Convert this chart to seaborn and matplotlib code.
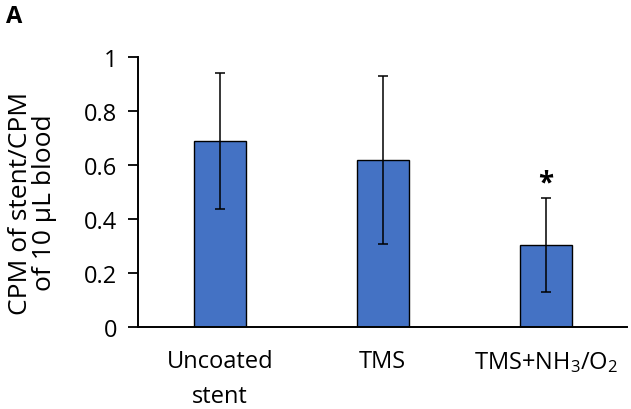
import numpy as np
import pandas as pd
import matplotlib
matplotlib.use('Agg')
import matplotlib.pyplot as plt
import seaborn as sns

# values
groups = ['Uncoated\nstent', 'TMS', 'TMS+NH$_3$/O$_2$']
means = [0.69, 0.62, 0.305]
errs = [0.25, 0.31, 0.175]
signif = ['', '', '*']

sns.set_style('ticks')
plt.rcParams['font.family'] = ['Open Sans', 'DejaVu Sans']
plt.rcParams['mathtext.default'] = 'regular'
plt.rcParams['text.color'] = 'black'
plt.rcParams['axes.labelcolor'] = 'black'
plt.rcParams['xtick.color'] = 'black'
plt.rcParams['ytick.color'] = 'black'

df = pd.DataFrame({'group': groups, 'mean': means, 'err': errs})

fig = plt.figure(figsize=(6.31, 4.10), dpi=100)
ax = fig.add_axes([0.219, 0.199, 0.775, 0.659])

sns.barplot(data=df, x='group', y='mean', color='#4472C4', saturation=1,
            width=0.32, edgecolor='black', linewidth=1, ax=ax)
ax.errorbar(np.arange(len(df)), df['mean'], yerr=df['err'], fmt='none',
            ecolor='black', elinewidth=1.1, capsize=3.5, capthick=1.1)

for i, s in enumerate(signif):
    if s:
        ax.text(i, means[i] + errs[i] + 0.055, s, ha='center', va='center',
                fontsize=20, fontweight='bold')

ax.set_xlim(-0.5, 2.5)
ax.set_ylim(0, 1)
ax.set_yticks([0, 0.2, 0.4, 0.6, 0.8, 1])
ax.set_yticklabels(['0', '0.2', '0.4', '0.6', '0.8', '1'])
ax.tick_params(axis='y', labelsize=17, length=7, width=1.3, pad=8, direction='out')
ax.tick_params(axis='x', labelsize=17, length=0, pad=15.5)
for lab in ax.get_xticklabels():
    lab.set_linespacing(1.6)
ax.set_xlabel('')
ax.set_ylabel('CPM of stent/CPM\nof 10 μL blood', fontsize=19,
              linespacing=0.95)
ax.yaxis.set_label_coords(-0.165, 0.464)
sns.despine(ax=ax)
for sp in ['left', 'bottom']:
    ax.spines[sp].set_linewidth(1.4)
    ax.spines[sp].set_color('black')

fig.text(0.01, 0.958, 'A', fontsize=17, fontweight='bold', va='center')

fig.savefig('out.png', dpi=100)
